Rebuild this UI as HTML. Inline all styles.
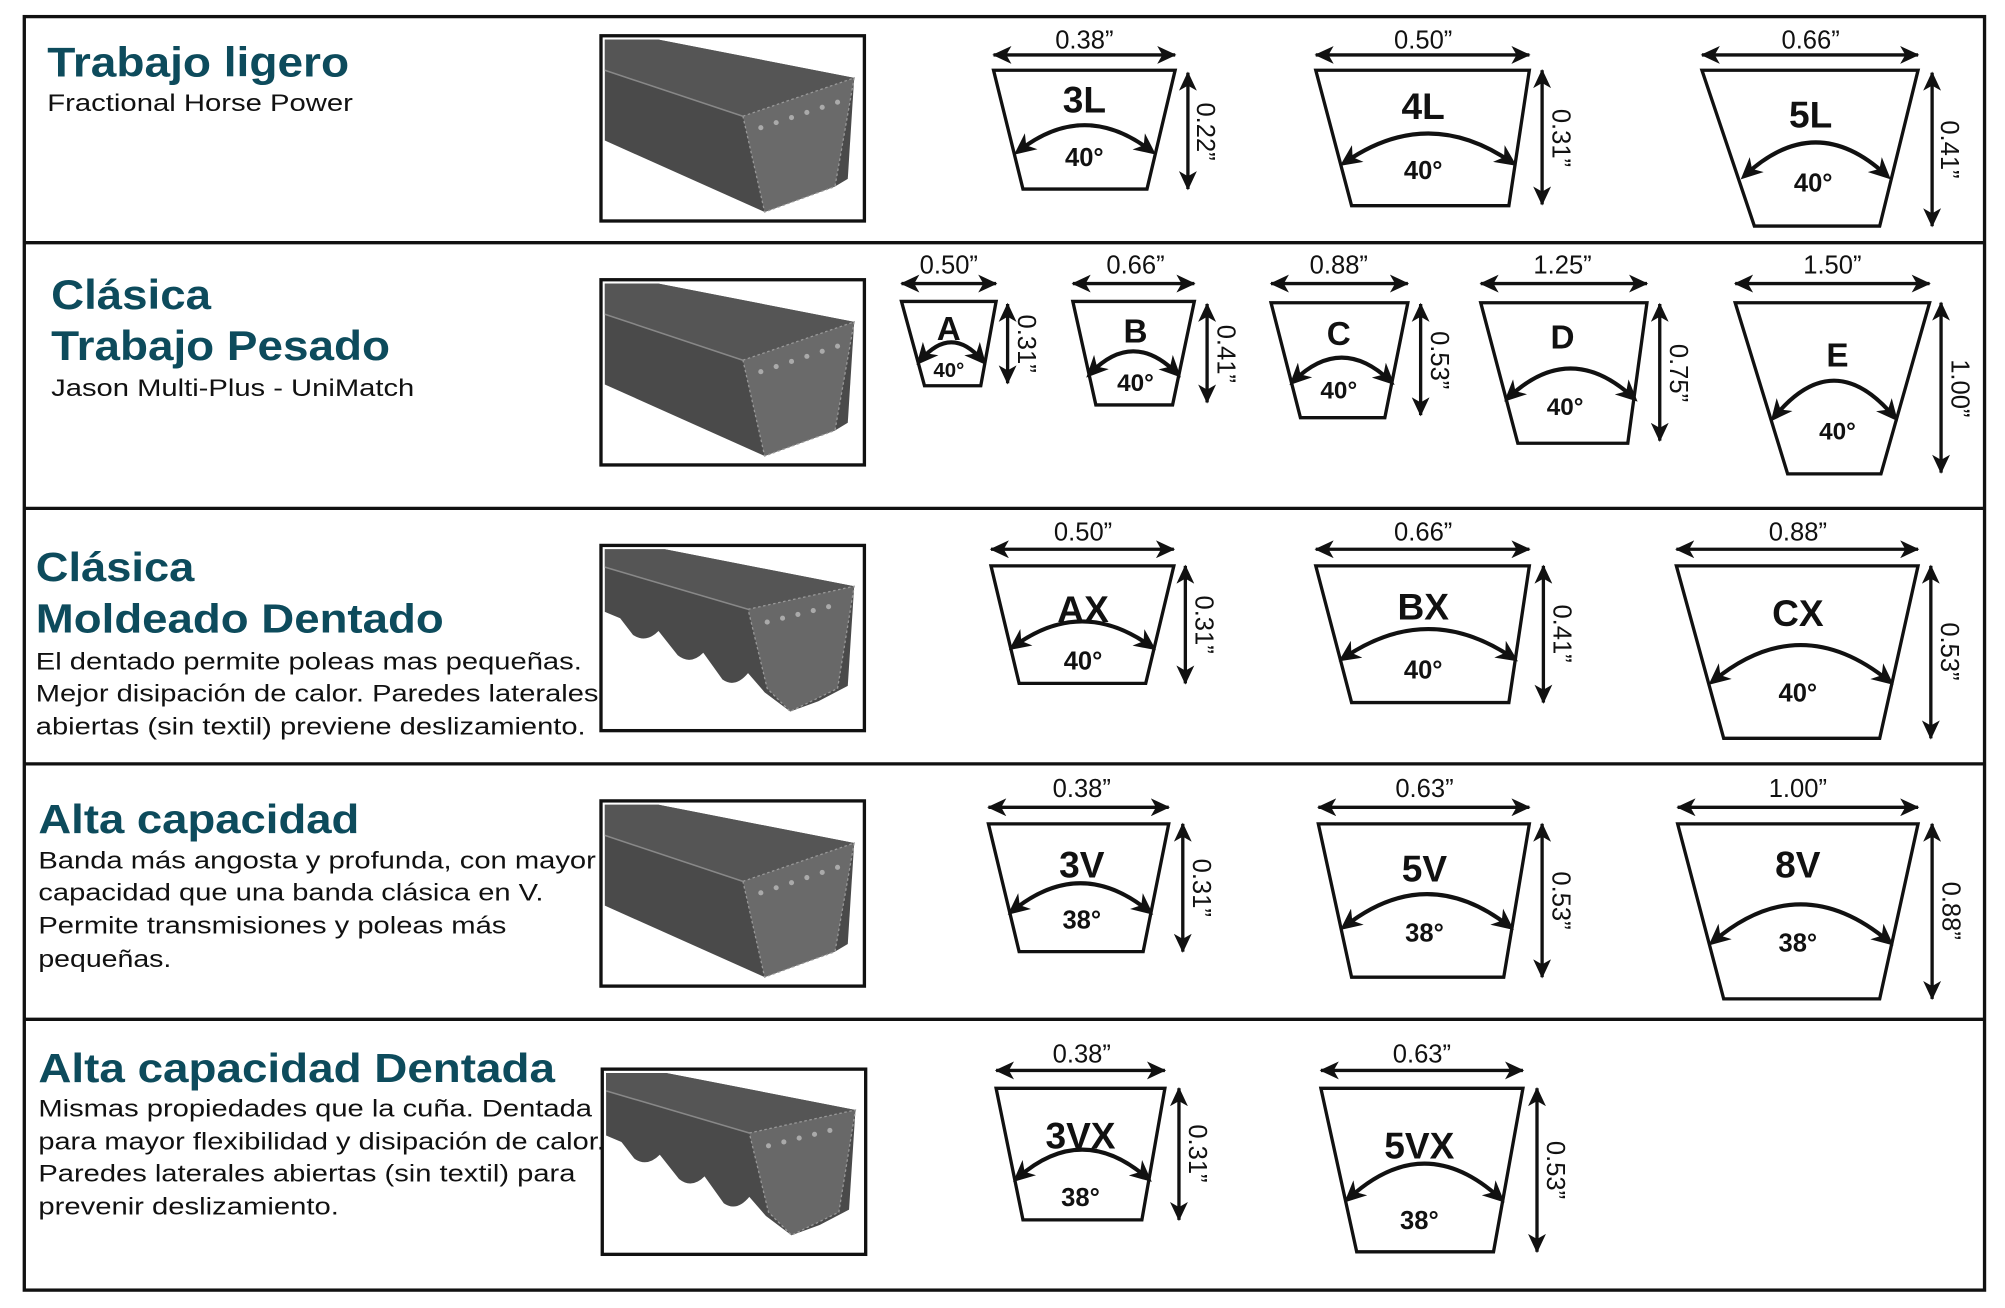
<!DOCTYPE html>
<html><head><meta charset="utf-8"><style>
html,body{margin:0;padding:0;background:#fff;}
svg{display:block;}
.t{font-family:"Liberation Sans",sans-serif;font-weight:bold;fill:#0d4b5c;}
.b{font-family:"Liberation Sans",sans-serif;fill:#111;font-size:19px;}
.d{font-family:"Liberation Sans",sans-serif;fill:#111;font-size:20px;text-anchor:middle;}
.n{font-family:"Liberation Sans",sans-serif;font-weight:bold;fill:#111;text-anchor:middle;}
.tr{fill:#fff;stroke:#111;stroke-width:2.6;}
.ar{stroke:#111;stroke-width:2.6;fill:none;marker-start:url(#ms);marker-end:url(#me);}
.arc{stroke:#111;stroke-width:3.2;fill:none;marker-start:url(#ms2);marker-end:url(#me2);}
</style></head><body>
<svg width="2005" height="1308" viewBox="0 0 1568 1024" preserveAspectRatio="none" xmlns="http://www.w3.org/2000/svg">
<defs>
<marker id="me" markerUnits="userSpaceOnUse" markerWidth="16" markerHeight="14" refX="14" refY="7" orient="auto"><path d="M0,0 L15,7 L0,14 L4,7 Z" fill="#111"/></marker>
<marker id="ms" markerUnits="userSpaceOnUse" markerWidth="16" markerHeight="14" refX="14" refY="7" orient="auto-start-reverse"><path d="M0,0 L15,7 L0,14 L4,7 Z" fill="#111"/></marker>
<marker id="me2" markerUnits="userSpaceOnUse" markerWidth="18" markerHeight="16" refX="12" refY="8" orient="auto"><path d="M0,0 L17,8 L0,16 L5,8 Z" fill="#111"/></marker>
<marker id="ms2" markerUnits="userSpaceOnUse" markerWidth="18" markerHeight="16" refX="12" refY="8" orient="auto-start-reverse"><path d="M0,0 L17,8 L0,16 L5,8 Z" fill="#111"/></marker>
<g id="belt">
<rect x="470" y="28" width="206" height="145" fill="#fff" stroke="#111" stroke-width="2.6"/>
<polygon points="473,31 515,31 668,61 663,140 653,146 598,166 473,110" fill="#4a4a4a"/>
<polygon points="473,31 515,31 668,61 581,91 473,55" fill="#555"/>
<polygon points="581,91 668,61 653,146 598,166" fill="#6a6a6a" stroke="#999" stroke-width="1" stroke-dasharray="2,2"/>
<line x1="473" y1="55" x2="581" y2="91" stroke="#888" stroke-width="1.2"/>
<g fill="#aaa"><circle cx="595" cy="100" r="2"/><circle cx="607" cy="96" r="2"/><circle cx="619" cy="92" r="2"/><circle cx="631" cy="88" r="2"/><circle cx="643" cy="84" r="2"/><circle cx="655" cy="80" r="2"/></g>
</g>
<g id="tbelt">
<rect x="470" y="28" width="206" height="145" fill="#fff" stroke="#111" stroke-width="2.6"/>
<path d="M473,31 L520,31 L668,60 L663,138 L640,150 L618,158 L598,143 L585,128 Q575,140 565,133 L550,112 Q540,122 530,114 L515,95 Q505,105 495,98 L485,85 L473,80 Z" fill="#4a4a4a"/>
<polygon points="473,31 520,31 668,60 585,78 473,45" fill="#555"/>
<polygon points="585,78 668,60 655,140 618,158 600,140" fill="#686868" stroke="#999" stroke-width="1" stroke-dasharray="2,2"/>
<line x1="473" y1="45" x2="585" y2="78" stroke="#888" stroke-width="1.2"/>
<g fill="#aaa"><circle cx="600" cy="88" r="2"/><circle cx="612" cy="85" r="2"/><circle cx="624" cy="82" r="2"/><circle cx="636" cy="79" r="2"/><circle cx="648" cy="76" r="2"/></g>
</g>
</defs>

<rect x="19" y="13" width="1533" height="997" fill="none" stroke="#111" stroke-width="2.6"/>
<g stroke="#111" stroke-width="2.6">
<line x1="19" y1="190" x2="1552" y2="190"/><line x1="19" y1="398" x2="1552" y2="398"/>
<line x1="19" y1="598" x2="1552" y2="598"/><line x1="19" y1="798" x2="1552" y2="798"/>
</g>

<use href="#belt"/>
<use href="#belt" transform="translate(0,191)"/>
<use href="#tbelt" transform="translate(0,399)"/>
<use href="#belt" transform="translate(0,599)"/>
<use href="#tbelt" transform="translate(1,809)"/>

<text class="t" x="37" y="60" font-size="33" textLength="236" lengthAdjust="spacingAndGlyphs">Trabajo ligero</text>
<text class="b" x="37" y="87" textLength="239" lengthAdjust="spacingAndGlyphs">Fractional Horse Power</text>

<text class="t" x="40" y="242" font-size="33" textLength="125" lengthAdjust="spacingAndGlyphs">Clásica</text>
<text class="t" x="40" y="282" font-size="33" textLength="265" lengthAdjust="spacingAndGlyphs">Trabajo Pesado</text>
<text class="b" x="40" y="310" textLength="284" lengthAdjust="spacingAndGlyphs">Jason Multi-Plus - UniMatch</text>

<text class="t" x="28" y="455" font-size="32" textLength="124" lengthAdjust="spacingAndGlyphs">Clásica</text>
<text class="t" x="28" y="495" font-size="32" textLength="319" lengthAdjust="spacingAndGlyphs">Moldeado Dentado</text>
<text class="b" x="28" y="524" textLength="427" lengthAdjust="spacingAndGlyphs">El dentado permite poleas mas pequeñas.</text>
<text class="b" x="28" y="549" textLength="440" lengthAdjust="spacingAndGlyphs">Mejor disipación de calor. Paredes laterales</text>
<text class="b" x="28" y="575" textLength="430" lengthAdjust="spacingAndGlyphs">abiertas (sin textil) previene deslizamiento.</text>

<text class="t" x="30" y="652" font-size="32" textLength="251" lengthAdjust="spacingAndGlyphs">Alta capacidad</text>
<text class="b" x="30" y="680" textLength="436" lengthAdjust="spacingAndGlyphs">Banda más angosta y profunda, con mayor</text>
<text class="b" x="30" y="705" textLength="395" lengthAdjust="spacingAndGlyphs">capacidad que una banda clásica en V.</text>
<text class="b" x="30" y="731" textLength="366" lengthAdjust="spacingAndGlyphs">Permite transmisiones y poleas más</text>
<text class="b" x="30" y="757" textLength="104" lengthAdjust="spacingAndGlyphs">pequeñas.</text>

<text class="t" x="30" y="847" font-size="32" textLength="404" lengthAdjust="spacingAndGlyphs">Alta capacidad Dentada</text>
<text class="b" x="30" y="874" textLength="433" lengthAdjust="spacingAndGlyphs">Mismas propiedades que la cuña. Dentada</text>
<text class="b" x="30" y="900" textLength="443" lengthAdjust="spacingAndGlyphs">para mayor flexibilidad y disipación de calor.</text>
<text class="b" x="30" y="925" textLength="420" lengthAdjust="spacingAndGlyphs">Paredes laterales abiertas (sin textil) para</text>
<text class="b" x="30" y="951" textLength="235" lengthAdjust="spacingAndGlyphs">prevenir deslizamiento.</text>

<!-- ROW 1 -->
<polygon class="tr" points="777,55 919,55 897,148 800,148"/>
<line class="ar" x1="777" y1="43" x2="919" y2="43"/><text class="d" x="848" y="38">0.38”</text>
<line class="ar" x1="929" y1="57" x2="929" y2="148"/><text class="d" transform="rotate(90 936 103)" x="936" y="103">0.22”</text>
<text class="n" x="848" y="88" font-size="29">3L</text>
<path class="arc" d="M797,118 Q848,78 900,118"/><text class="n" x="848" y="130" font-size="20">40°</text>

<polygon class="tr" points="1029,55 1196,55 1180,161 1057,161"/>
<line class="ar" x1="1029" y1="43" x2="1196" y2="43"/><text class="d" x="1113" y="38">0.50”</text>
<line class="ar" x1="1206" y1="55" x2="1206" y2="160"/><text class="d" transform="rotate(90 1214 108)" x="1214" y="108">0.31”</text>
<text class="n" x="1113" y="93" font-size="29">4L</text>
<path class="arc" d="M1052,127 Q1117,82 1182,127"/><text class="n" x="1113" y="140" font-size="20">40°</text>

<polygon class="tr" points="1331,55 1500,55 1470,177 1372,177"/>
<line class="ar" x1="1331" y1="43" x2="1500" y2="43"/><text class="d" x="1416" y="38">0.66”</text>
<line class="ar" x1="1511" y1="57" x2="1511" y2="177"/><text class="d" transform="rotate(90 1518 117)" x="1518" y="117">0.41”</text>
<text class="n" x="1416" y="100" font-size="29">5L</text>
<path class="arc" d="M1365,137 Q1420,86 1475,137"/><text class="n" x="1418" y="150" font-size="20">40°</text>

<!-- ROW 2 -->
<polygon class="tr" points="705,236 779,236 767,302 723,302"/>
<line class="ar" x1="705" y1="222" x2="779" y2="222"/><text class="d" x="742" y="214">0.50”</text>
<line class="ar" x1="788" y1="238" x2="788" y2="300"/><text class="d" transform="rotate(90 796 269)" x="796" y="269">0.31”</text>
<text class="n" x="742" y="266" font-size="26">A</text>
<path class="arc" d="M720,282 Q744,254 768,282"/><text class="n" x="742" y="295" font-size="16">40°</text>

<polygon class="tr" points="839,236 934,236 917,317 857,317"/>
<line class="ar" x1="839" y1="222" x2="934" y2="222"/><text class="d" x="888" y="214">0.66”</text>
<line class="ar" x1="944" y1="238" x2="944" y2="315"/><text class="d" transform="rotate(90 952 277)" x="952" y="277">0.41”</text>
<text class="n" x="888" y="268" font-size="26">B</text>
<path class="arc" d="M853,292 Q886,258 920,292"/><text class="n" x="888" y="306" font-size="19">40°</text>

<polygon class="tr" points="994,237 1101,237 1083,327 1017,327"/>
<line class="ar" x1="994" y1="222" x2="1101" y2="222"/><text class="d" x="1047" y="214">0.88”</text>
<line class="ar" x1="1111" y1="238" x2="1111" y2="325"/><text class="d" transform="rotate(90 1119 282)" x="1119" y="282">0.53”</text>
<text class="n" x="1047" y="270" font-size="26">C</text>
<path class="arc" d="M1012,298 Q1049,262 1087,298"/><text class="n" x="1047" y="312" font-size="19">40°</text>

<polygon class="tr" points="1158,237 1288,237 1273,347 1187,347"/>
<line class="ar" x1="1158" y1="222" x2="1288" y2="222"/><text class="d" x="1222" y="214">1.25”</text>
<line class="ar" x1="1298" y1="238" x2="1298" y2="345"/><text class="d" transform="rotate(90 1306 292)" x="1306" y="292">0.75”</text>
<text class="n" x="1222" y="273" font-size="26">D</text>
<path class="arc" d="M1180,311 Q1228,266 1277,311"/><text class="n" x="1224" y="325" font-size="19">40°</text>

<polygon class="tr" points="1357,237 1509,237 1471,371 1398,371"/>
<line class="ar" x1="1357" y1="222" x2="1509" y2="222"/><text class="d" x="1433" y="214">1.50”</text>
<line class="ar" x1="1518" y1="237" x2="1518" y2="370"/><text class="d" transform="rotate(90 1526 304)" x="1526" y="304">1.00”</text>
<text class="n" x="1437" y="287" font-size="26">E</text>
<path class="arc" d="M1388,326 Q1434,270 1481,326"/><text class="n" x="1437" y="344" font-size="19">40°</text>

<!-- ROW 3 -->
<polygon class="tr" points="775,443 918,443 896,535 797,535"/>
<line class="ar" x1="775" y1="430" x2="918" y2="430"/><text class="d" x="847" y="423">0.50”</text>
<line class="ar" x1="927" y1="443" x2="927" y2="535"/><text class="d" transform="rotate(90 935 489)" x="935" y="489">0.31”</text>
<text class="n" x="847" y="487" font-size="29">AX</text>
<path class="arc" d="M793,506 Q846,467 900,506"/><text class="n" x="847" y="524" font-size="20">40°</text>

<polygon class="tr" points="1029,443 1196,443 1180,550 1057,550"/>
<line class="ar" x1="1029" y1="430" x2="1196" y2="430"/><text class="d" x="1113" y="423">0.66”</text>
<line class="ar" x1="1207" y1="443" x2="1207" y2="550"/><text class="d" transform="rotate(90 1215 496)" x="1215" y="496">0.41”</text>
<text class="n" x="1113" y="485" font-size="29">BX</text>
<path class="arc" d="M1051,515 Q1117,470 1183,515"/><text class="n" x="1113" y="531" font-size="20">40°</text>

<polygon class="tr" points="1311,443 1500,443 1470,578 1348,578"/>
<line class="ar" x1="1311" y1="430" x2="1500" y2="430"/><text class="d" x="1406" y="423">0.88”</text>
<line class="ar" x1="1510" y1="443" x2="1510" y2="578"/><text class="d" transform="rotate(90 1518 510)" x="1518" y="510">0.53”</text>
<text class="n" x="1406" y="490" font-size="29">CX</text>
<path class="arc" d="M1340,533 Q1408,477 1477,533"/><text class="n" x="1406" y="549" font-size="20">40°</text>

<!-- ROW 4 -->
<polygon class="tr" points="773,645 914,645 894,745 797,745"/>
<line class="ar" x1="773" y1="632" x2="914" y2="632"/><text class="d" x="846" y="624">0.38”</text>
<line class="ar" x1="925" y1="645" x2="925" y2="745"/><text class="d" transform="rotate(90 933 695)" x="933" y="695">0.31”</text>
<text class="n" x="846" y="687" font-size="29">3V</text>
<path class="arc" d="M792,713 Q845,670 898,713"/><text class="n" x="846" y="727" font-size="20">38°</text>

<polygon class="tr" points="1031,645 1196,645 1176,765 1057,765"/>
<line class="ar" x1="1031" y1="632" x2="1196" y2="632"/><text class="d" x="1114" y="624">0.63”</text>
<line class="ar" x1="1206" y1="645" x2="1206" y2="765"/><text class="d" transform="rotate(90 1214 705)" x="1214" y="705">0.53”</text>
<text class="n" x="1114" y="690" font-size="29">5V</text>
<path class="arc" d="M1052,725 Q1116,675 1180,725"/><text class="n" x="1114" y="737" font-size="20">38°</text>

<polygon class="tr" points="1312,645 1500,645 1470,782 1348,782"/>
<line class="ar" x1="1312" y1="632" x2="1500" y2="632"/><text class="d" x="1406" y="624">1.00”</text>
<line class="ar" x1="1511" y1="645" x2="1511" y2="782"/><text class="d" transform="rotate(90 1519 713)" x="1519" y="713">0.88”</text>
<text class="n" x="1406" y="687" font-size="29">8V</text>
<path class="arc" d="M1340,737 Q1408,679 1477,737"/><text class="n" x="1406" y="745" font-size="20">38°</text>

<!-- ROW 5 -->
<polygon class="tr" points="779,852 911,852 893,955 800,955"/>
<line class="ar" x1="779" y1="838" x2="911" y2="838"/><text class="d" x="846" y="832">0.38”</text>
<line class="ar" x1="922" y1="852" x2="922" y2="955"/><text class="d" transform="rotate(90 930 903)" x="930" y="903">0.31”</text>
<text class="n" x="845" y="899" font-size="29">3VX</text>
<path class="arc" d="M796,922 Q846,878 897,922"/><text class="n" x="845" y="944" font-size="20">38°</text>

<polygon class="tr" points="1033,852 1191,852 1168,980 1061,980"/>
<line class="ar" x1="1033" y1="838" x2="1191" y2="838"/><text class="d" x="1112" y="832">0.63”</text>
<line class="ar" x1="1202" y1="852" x2="1202" y2="980"/><text class="d" transform="rotate(90 1210 916)" x="1210" y="916">0.53”</text>
<text class="n" x="1110" y="907" font-size="29">5VX</text>
<path class="arc" d="M1055,938 Q1114,884 1173,938"/><text class="n" x="1110" y="962" font-size="20">38°</text>
</svg>
</body></html>
